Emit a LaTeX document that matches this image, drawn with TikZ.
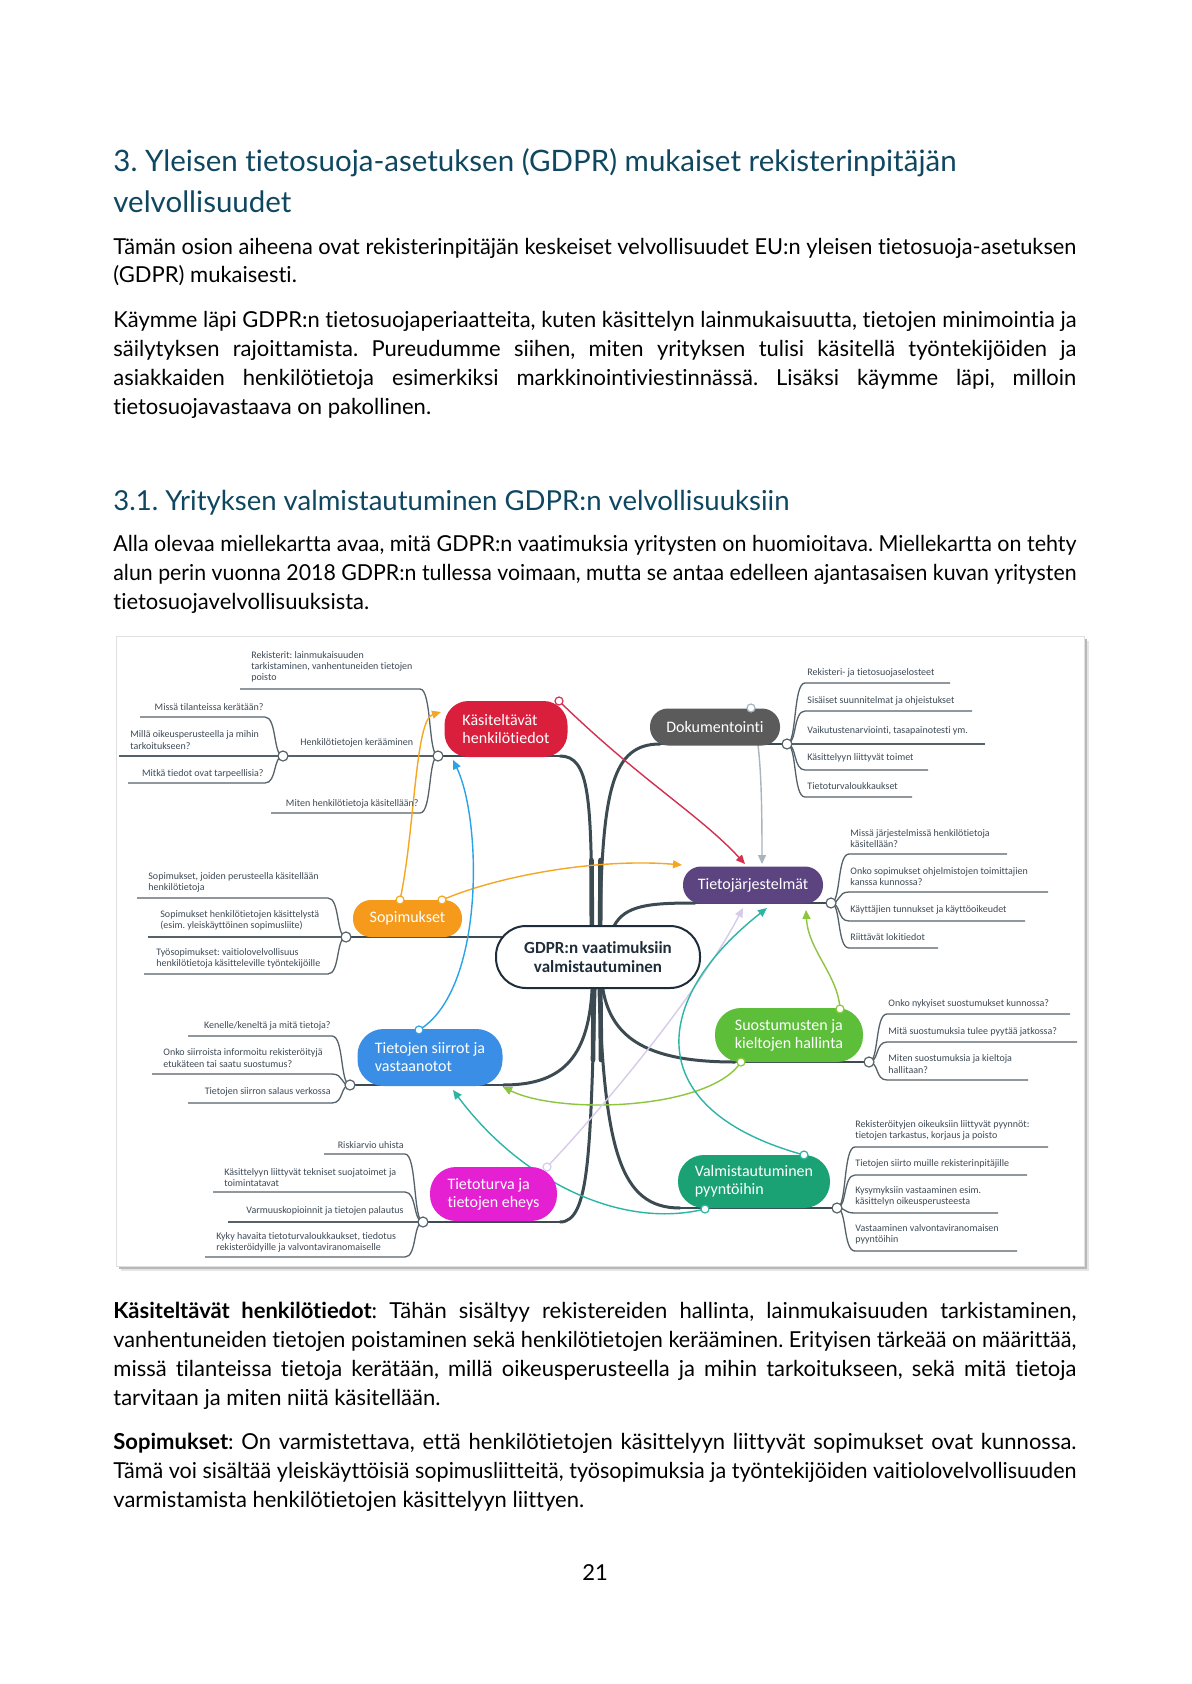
\documentclass[tikz,border=0pt]{standalone}
\usepackage{graphicx}
\usepackage{fontspec}
\setmainfont{Lato}[Ligatures={NoCommon}]
\newfontfamily\mmf{Carlito}[Ligatures={NoCommon}]
\usetikzlibrary{arrows.meta}
\frenchspacing
\definecolor{hd}{HTML}{0F4761}
\definecolor{cK}{HTML}{DA1F3D}
\definecolor{cD}{HTML}{5B5B5B}
\definecolor{cT}{HTML}{5C4480}
\definecolor{cS}{HTML}{F59A1B}
\definecolor{cV}{HTML}{3A8EE6}
\definecolor{cU}{HTML}{5DBE3A}
\definecolor{cW}{HTML}{E520D2}
\definecolor{cM}{HTML}{1AA274}
\definecolor{trk}{HTML}{3C4A52}
\definecolor{brc}{HTML}{56626A}
\definecolor{stc}{HTML}{3E4A55}
\definecolor{ctr}{HTML}{1F2D3A}
\definecolor{relred}{HTML}{D43050}
\definecolor{relgray}{HTML}{A9B4BC}
\definecolor{relor}{HTML}{F5A623}
\definecolor{relblue}{HTML}{2AA3E6}
\definecolor{relgreen}{HTML}{8CC63F}
\definecolor{rellav}{HTML}{D7CBEA}
\definecolor{relteal}{HTML}{2CB5A5}
\newsavebox\lbox
\newcommand\jl[1]{\sbox\lbox{#1}\ifdim\wd\lbox>481.5pt\resizebox{481.5pt}{\height}{\usebox\lbox}\else\makebox[481.5pt][s]{#1}\fi}
\newcommand\lsub[4]{\draw[brl] (#1) .. controls +(-10,0) and +(12,0) .. (#2-18,#3) -- (#4,#3);}
\newcommand\rsub[4]{\draw[brl] (#1) .. controls +(10,0) and +(-12,0) .. (#2+18,#3) -- (#4,#3);}
\begin{document}
\begin{tikzpicture}[x=0.5pt,y=-0.5pt,
  bl/.style={anchor=base west, inner sep=0pt, font=\fontsize{11}{14}\selectfont},
  trunk/.style={draw=trk, line width=1.5pt, line cap=round},
  trunkroot/.style={draw=trk, line width=2.3pt, line cap=round},
  tul/.style={draw=trk, line width=0.9pt},
  brl/.style={draw=brc, line width=0.65pt},
  subt/.style={font=\mmf\fontsize{5}{5.6}\selectfont, text=stc, inner sep=0pt, align=left},
  pill/.style={text=white, font=\mmf\fontsize{8}{9}\selectfont, align=left, inner sep=0pt},
  junc/.style={circle, draw=brc, fill=white, line width=0.6pt, minimum size=5pt, inner sep=0pt},
  relarr/.style={line width=0.7pt, -{Triangle[length=4.5pt,width=4pt]}},
  rdot/.style={circle, fill=white, line width=0.6pt, minimum size=4pt, inner sep=0pt}]
\useasboundingbox (0,0) rectangle (1191,1684);
\fill[white] (0,0) rectangle (1191,1684);

% ---------- headings and text ----------
\node[anchor=base west, inner sep=0pt, text=hd] (h1a) at (113,172) {\resizebox{421.5pt}{!}{\fontsize{14}{17}\selectfont 3. Yleisen tietosuoja-asetuksen (GDPR) mukaiset rekisterinpitäjän}};
\node[anchor=base west, inner sep=0pt, text=hd] (h1b) at (113,213) {\resizebox{89pt}{!}{\fontsize{14}{17}\selectfont velvollisuudet}};

\node[bl] (p1a) at (113,255) {\jl{Tämän osion aiheena ovat rekisterinpitäjän keskeiset velvollisuudet EU:n yleisen tietosuoja-asetuksen}};
\node[bl] (p1b) at (113,283) {(GDPR) mukaisesti.};

\node[bl] (p2a) at (113,328) {\jl{Käymme läpi GDPR:n tietosuojaperiaatteita, kuten käsittelyn lainmukaisuutta, tietojen minimointia ja}};
\node[bl] (p2b) at (113,357) {\jl{säilytyksen rajoittamista. Pureudumme siihen, miten yrityksen tulisi käsitellä työntekijöiden ja}};
\node[bl] (p2c) at (113,386) {\jl{asiakkaiden henkilötietoja esimerkiksi markkinointiviestinnässä. Lisäksi käymme läpi, milloin}};
\node[bl] (p2d) at (113,415) {tietosuojavastaava on pakollinen.};

\node[anchor=base west, inner sep=0pt, text=hd] (h2) at (113,510) {\resizebox{338pt}{!}{\fontsize{14}{17}\selectfont 3.1. Yrityksen valmistautuminen GDPR:n velvollisuuksiin}};

\node[bl] (p3a) at (113,551) {\jl{Alla olevaa miellekartta avaa, mitä GDPR:n vaatimuksia yritysten on huomioitava. Miellekartta on tehty}};
\node[bl] (p3b) at (113,580) {\jl{alun perin vuonna 2018 GDPR:n tullessa voimaan, mutta se antaa edelleen ajantasaisen kuvan yritysten}};
\node[bl] (p3c) at (113,609) {tietosuojavelvollisuuksista.};

\node[bl] (p4a) at (113,1318) {\jl{\textbf{Käsiteltävät henkilötiedot}: Tähän sisältyy rekistereiden hallinta, lainmukaisuuden tarkistaminen,}};
\node[bl] (p4b) at (113,1347) {\jl{vanhentuneiden tietojen poistaminen sekä henkilötietojen kerääminen. Erityisen tärkeää on määrittää,}};
\node[bl] (p4c) at (113,1376) {\jl{missä tilanteissa tietoja kerätään, millä oikeusperusteella ja mihin tarkoitukseen, sekä mitä tietoja}};
\node[bl] (p4d) at (113,1405) {tarvitaan ja miten niitä käsitellään.};

\node[bl] (p5a) at (113,1449) {\jl{\textbf{Sopimukset}: On varmistettava, että henkilötietojen käsittelyyn liittyvät sopimukset ovat kunnossa.}};
\node[bl] (p5b) at (113,1478) {\jl{Tämä voi sisältää yleiskäyttöisiä sopimusliitteitä, työsopimuksia ja työntekijöiden vaitiolovelvollisuuden}};
\node[bl] (p5c) at (113,1507) {varmistamista henkilötietojen käsittelyyn liittyen.};

\node[anchor=base, inner sep=0pt, font=\fontsize{11}{14}\selectfont] (pg) at (595,1580) {21};

% ---------- mind map frame ----------
\fill[black!10] (121,641) rectangle (1089,1271);
\fill[black!28] (119,639) rectangle (1087,1269);
\fill[white, draw=black!12, line width=0.3pt] (116,636) rectangle (1084,1266);

% junction and relation coordinates
\coordinate (jK) at (438,756);
\coordinate (jK2) at (283,756);
\coordinate (jD) at (787,744);
\coordinate (jT) at (831,903);
\coordinate (jS) at (346,937);
\coordinate (jV) at (350,1085);
\coordinate (jU) at (869,1062);
\coordinate (jW) at (423,1222);
\coordinate (jM) at (837,1208);

% ---------- trunks ----------
\draw[trunk] (592,957) -- (592,920) .. controls (591,800) and (590,756) .. (560,756);
\draw[tul] (560,756) -- (jK);
\draw[trunk] (600,957) -- (600,920) .. controls (603,790) and (612,744) .. (660,744);
\draw[tul] (660,744) -- (jD);
\draw[trunk] (612,957) -- (614,926) .. controls (625,905) and (650,903) .. (695,903);
\draw[tul] (695,903) -- (jT);
\draw[tul] (598,937) -- (jS);
\draw[trunk] (592,957) -- (592,990) .. controls (588,1060) and (560,1085) .. (503,1085);
\draw[tul] (503,1085) -- (jV);
\draw[trunk] (603,957) -- (603,990) .. controls (612,1040) and (650,1062) .. (735,1062);
\draw[tul] (735,1062) -- (jU);
\draw[trunk] (595,957) -- (595,990) .. controls (590,1150) and (590,1222) .. (560,1222);
\draw[tul] (560,1222) -- (jW);
\draw[trunk] (599,957) -- (599,990) .. controls (605,1150) and (620,1208) .. (680,1208);
\draw[tul] (680,1208) -- (jM);
% thicker roots near the central topic
\draw[trunkroot] (592,957) -- (591.5,860);
\draw[trunkroot] (600,957) -- (600.5,860);
\draw[trunkroot] (594,957) -- (593,1060);
\draw[trunkroot] (600,957) -- (601,1060);

% ---------- sub branches ----------
% Kasiteltavat
\lsub{jK}{438}{689}{240}
\draw[brl] (jK) -- (jK2);
\lsub{jK}{438}{813}{271}
\lsub{jK2}{283}{717}{140}
\draw[brl] (jK2) -- (119,756);
\lsub{jK2}{283}{783}{128}
% Dokumentointi
\rsub{jD}{787}{683}{950}
\rsub{jD}{787}{711}{972}
\draw[brl] (jD) -- (985,744);
\rsub{jD}{787}{770}{928}
\rsub{jD}{787}{797}{912}
% Tietojarjestelmat
\rsub{jT}{831}{854}{1007}
\rsub{jT}{831}{892}{1048}
\rsub{jT}{831}{921}{1025}
\rsub{jT}{831}{948}{938}
% Sopimukset
\lsub{jS}{346}{898}{137}
\draw[brl] (jS) -- (148,937);
\lsub{jS}{346}{974}{144}
% Siirrot
\lsub{jV}{350}{1036}{188}
\lsub{jV}{350}{1074}{152}
\lsub{jV}{350}{1103}{188}
% Suostumukset
\rsub{jU}{869}{1014}{1070}
\rsub{jU}{869}{1042}{1077}
\rsub{jU}{869}{1080}{1028}
% Valmistautuminen
\rsub{jM}{837}{1147}{1048}
\rsub{jM}{837}{1175}{1027}
\rsub{jM}{837}{1213}{998}
\rsub{jM}{837}{1251}{1017}
% Tietoturva
\lsub{jW}{423}{1154}{324}
\lsub{jW}{423}{1192}{213}
\draw[brl] (jW) -- (228,1222);
\lsub{jW}{423}{1257}{205}

% ---------- relationship connectors ----------
\coordinate (rK) at (559,701);
\coordinate (rD) at (751,708);
\coordinate (rS1) at (400,900);
\coordinate (rS2) at (442,900);
\coordinate (rV) at (419,1030);
\coordinate (rU1) at (840,1009);
\coordinate (rU2) at (741,1062);
\coordinate (rW) at (547,1167);
\coordinate (rM1) at (804,1155);
\coordinate (rM2) at (705,1209);
\coordinate (aT1) at (745,864);
\coordinate (aT2) at (762,864);
\coordinate (aT3) at (682,865);
\coordinate (aT4) at (806,910);
\coordinate (aT5) at (743,908);
\coordinate (aT6) at (767,908);
\coordinate (aK1) at (441,712);
\coordinate (aK2) at (453,760);
\coordinate (aV1) at (503,1087);
\coordinate (aV2) at (453,1090);

\draw[relarr, relred] (rK) .. controls (640,780) and (700,815) .. (aT1);
\draw[relarr, relgray] (rD) .. controls (760,740) and (762,780) .. (aT2);
\draw[relarr, relor] (rS1) .. controls (415,830) and (415,720) .. (aK1);
\draw[relarr, relor] (rS2) .. controls (500,875) and (600,858) .. (aT3);
\draw[relarr, relblue] (rV) .. controls (485,990) and (482,820) .. (aK2);
\draw[relarr, relgreen] (rU1) .. controls (838,975) and (808,950) .. (aT4);
\draw[relarr, relgreen] (rU2) .. controls (710,1110) and (560,1115) .. (aV1);
\draw[relarr, rellav] (rW) .. controls (610,1100) and (700,990) .. (aT5);
\draw[relarr, relteal] (rM1) .. controls (640,1110) and (650,1000) .. (aT6);
\draw[relarr, relteal] (rM2) .. controls (620,1230) and (520,1180) .. (aV2);

% ---------- topics ----------
\node[pill, fill=cK, minimum width=61.5pt, minimum height=28pt, rounded corners=12pt] (K) at (506,729) {Käsiteltävät\\henkilötiedot};
\node[pill, fill=cD, minimum width=65pt, minimum height=18.5pt, rounded corners=9pt] (D) at (715,727) {Dokumentointi};
\node[pill, fill=cT, minimum width=70pt, minimum height=18.5pt, rounded corners=9pt] (T) at (753,885) {Tietojärjestelmät};
\node[pill, fill=cS, minimum width=54.5pt, minimum height=18.5pt, rounded corners=9pt] (S) at (407.5,918.5) {Sopimukset};
\node[pill, fill=cV, minimum width=72.5pt, minimum height=28.5pt, rounded corners=13pt] (V) at (430,1057.5) {Tietojen siirrot ja\\vastaanotot};
\node[pill, fill=cU, minimum width=74pt, minimum height=27pt, rounded corners=13pt] (U) at (789,1035) {Suostumusten ja\\kieltojen hallinta};
\node[pill, fill=cW, minimum width=63.5pt, minimum height=27pt, rounded corners=13pt] (W) at (493.5,1194) {Tietoturva ja\\tietojen eheys};
\node[pill, fill=cM, minimum width=76pt, minimum height=26.5pt, rounded corners=13pt] (M) at (754,1181.5) {Valmistautuminen\\pyyntöihin};
\node[draw=ctr, line width=1pt, fill=white, text=ctr, rounded corners=15pt, minimum width=102pt, minimum height=31pt, inner sep=0pt, align=center, font=\mmf\bfseries\fontsize{8.5}{9.5}\selectfont] (C) at (598,957) {GDPR:n vaatimuksiin\\valmistautuminen};

% ---------- junction circles ----------
\foreach \j in {jK,jK2,jD,jT,jS,jV,jU,jW,jM} \node[junc] at (\j) {};
\node[rdot, draw=relred] at (rK) {};
\node[rdot, draw=relgray] at (rD) {};
\node[rdot, draw=relor] at (rS1) {};
\node[rdot, draw=relor] at (rS2) {};
\node[rdot, draw=relblue] at (rV) {};
\node[rdot, draw=relgreen] at (rU1) {};
\node[rdot, draw=relgreen] at (rU2) {};
\node[rdot, draw=rellav] at (rW) {};
\node[rdot, draw=relteal] at (rM1) {};
\node[rdot, draw=relteal] at (rM2) {};

% ---------- subtopic texts ----------
\node[subt, anchor=west] at (251,667) {Rekisterit: lainmukaisuuden\\tarkistaminen, vanhentuneiden tietojen\\poisto};
\node[subt, anchor=west] at (300,743) {Henkilötietojen kerääminen};
\node[subt, anchor=east] at (419,804) {Miten henkilötietoja käsitellään?};
\node[subt, anchor=east] at (264,707) {Missä tilanteissa kerätään?};
\node[subt, anchor=west] at (130,740) {Millä oikeusperusteella ja mihin\\tarkoitukseen?};
\node[subt, anchor=east] at (264,774) {Mitkä tiedot ovat tarpeellisia?};

\node[subt, anchor=west] at (807,673) {Rekisteri- ja tietosuojaselosteet};
\node[subt, anchor=west] at (807,701) {Sisäiset suunnitelmat ja ohjeistukset};
\node[subt, anchor=west] at (807,731) {Vaikutustenarviointi, tasapainotesti ym.};
\node[subt, anchor=west] at (807,758) {Käsittelyyn liittyvät toimet};
\node[subt, anchor=west] at (807,786) {Tietoturvaloukkaukset};

\node[subt, anchor=west] at (850,838.5) {Missä järjestelmissä henkilötietoja\\käsitellään?};
\node[subt, anchor=west] at (850,876.5) {Onko sopimukset ohjelmistojen toimittajien\\kanssa kunnossa?};
\node[subt, anchor=west] at (850,910) {Käyttäjien tunnukset ja käyttöoikeudet};
\node[subt, anchor=west] at (850,937) {Riittävät lokitiedot};

\node[subt, anchor=west] at (148,882.5) {Sopimukset, joiden perusteella käsitellään\\henkilötietoja};
\node[subt, anchor=west] at (160,920) {Sopimukset henkilötietojen käsittelystä\\(esim. yleiskäyttöinen sopimusliite)};
\node[subt, anchor=west] at (156,958) {Työsopimukset: vaitiolovelvollisuus\\henkilötietoja käsitteleville työntekijöille};

\node[subt, anchor=east] at (331,1026) {Kenelle/keneltä ja mitä tietoja?};
\node[subt, anchor=west] at (163,1058) {Onko siirroista informoitu rekisteröityjä\\etukäteen tai saatu suostumus?};
\node[subt, anchor=east] at (331,1092) {Tietojen siirron salaus verkossa};

\node[subt, anchor=west] at (888,1004) {Onko nykyiset suostumukset kunnossa?};
\node[subt, anchor=west] at (888,1032) {Mitä suostumuksia tulee pyytää jatkossa?};
\node[subt, anchor=west] at (888,1064) {Miten suostumuksia ja kieltoja\\hallitaan?};

\node[subt, anchor=west] at (855,1130.5) {Rekisteröityjen oikeuksiin liittyvät pyynnöt:\\tietojen tarkastus, korjaus ja poisto};
\node[subt, anchor=west] at (855,1164) {Tietojen siirto muille rekisterinpitäjille};
\node[subt, anchor=west] at (855,1196.5) {Kysymyksiin vastaaminen esim.\\käsittelyn oikeusperusteesta};
\node[subt, anchor=west] at (855,1234) {Vastaaminen valvontaviranomaisen\\pyyntöihin};

\node[subt, anchor=east] at (404,1145) {Riskiarvio uhista};
\node[subt, anchor=west] at (224,1177.5) {Käsittelyyn liittyvät tekniset suojatoimet ja\\toimintatavat};
\node[subt, anchor=east] at (404,1211) {Varmuuskopioinnit ja tietojen palautus};
\node[subt, anchor=west] at (216,1242.5) {Kyky havaita tietoturvaloukkaukset, tiedotus\\rekisteröidyille ja valvontaviranomaiselle};
\end{tikzpicture}
\end{document}
